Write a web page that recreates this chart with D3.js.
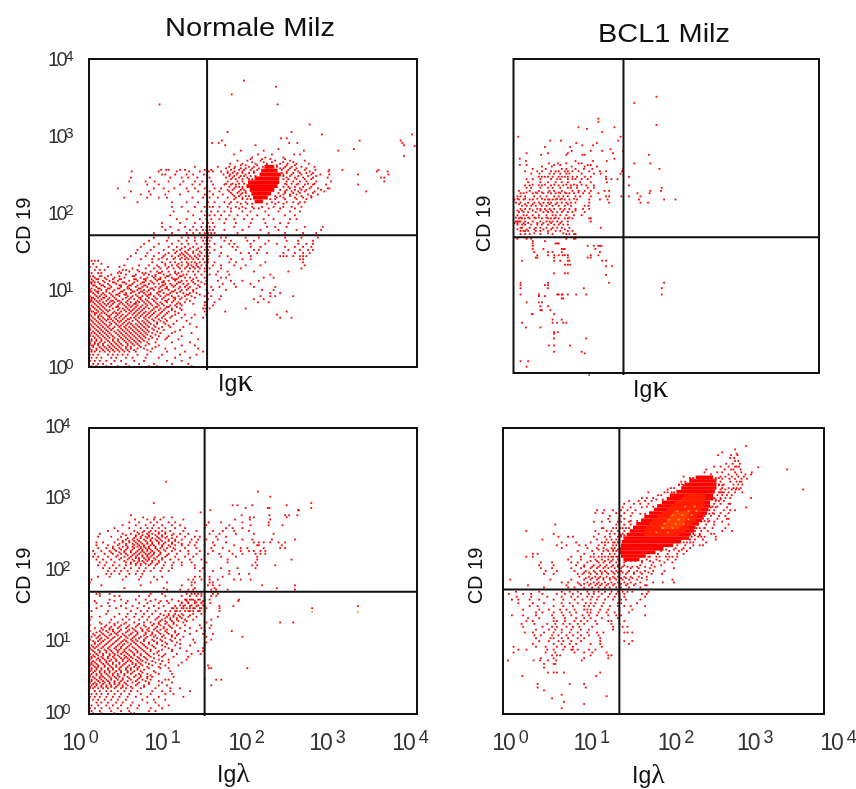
<!DOCTYPE html>
<html>
<head>
<meta charset="utf-8">
<script src="https://cdn.jsdelivr.net/npm/d3@7"></script>
<style>
body{margin:0;background:#fff}
svg{display:block;filter:blur(0.35px)}
text{font-family:"Liberation Sans",Arial,sans-serif;fill:#111}
</style>
</head>
<body>
<svg id="chart" width="856" height="789"></svg>
<script>
// all values are log10 of the signal x 100, so 0..400 is 10^0..10^4
// rows: [CD 19, [Ig values on that row]]
var decades = [0, 100, 200, 300, 400];
var exponents = ["0", "1", "2", "3", "4"];

var normalKappa = [
[372,[188]],[364,[227]],[354,[173]],[341,[85,229]],[315,[268]],[305,[168,246]],[302,[283,393]],[297,[233,240]],
[294,[161,329,379]],[291,[149,157,243,253,381]],[288,[165,202,383]],[287,[396]],[283,[230,322]],
[281,[184,212,261,303]],[276,[176,205,222,249,256]],[274,[383]],[272,[198,214,236]],
[268,[180,192,208,226,244,262]],[264,[171,186,202,216,232,241,252,267]],
[260,[128,156,170,177,194,200,211,222,228,238,246,258,274]],
[256,[87,93,96,110,116,140,148,172,182,188,196,204,234,242,250,262,275,292,308,352]],
[254,[51,84,106,121,134,145,150,160,168,176,186,200,240,254,268,291,363,350]],
[250,[88,92,104,118,126,139,143,163,171,179,190,236,246,258,270,281,292,327,364]],
[246,[50,73,98,112,120,131,146,166,174,182,192,240,250,260,272,290,355,359]],
[241,[48,68,79,96,114,128,137,148,168,180,186,240,248,256,264,276,294,359]],
[237,[70,84,110,125,134,150,164,172,178,240,252,262,272,288,327]],
[232,[34,78,90,103,118,128,140,152,160,176,186,244,256,268,278,290,292]],
[228,[50,72,96,120,132,146,158,170,182,190,238,246,254,262,274,286,337]],
[224,[62,74,92,110,140,150,162,174,184,236,244,252,266,278]],
[220,[42,70,84,94,125,138,146,156,168,178,186,228,236,250,260,270]],
[214,[58,100,118,132,144,152,164,172,180,190,222,230,240,248,256,262]],
[208,[100,112,128,140,146,150,158,168,178,186,198,210,224,236,246,258]],
[202,[102,120,136,142,148,156,164,172,186,196,214,230,244,256]],
[197,[98,126,140,146,152,160,170,180,192,204,218,238,250]],
[192,[106,118,134,142,148,158,166,176,188,198,212,224,244,252]],
[187,[88,110,128,138,144,150,164,178,196,214,232,242]],
[182,[88,98,116,126,136,142,146,152,176,194,216,226,240,262,284]],
[178,[92,108,122,130,138,142,146,150,164,186,208,230,252,282]],
[174,[78,100,118,126,134,140,144,148,152,180,218,238,260,276]],
[168,[78,96,112,120,128,136,140,144,148,160,166,190,206,238,258,278]],
[164,[72,94,108,118,128,138,142,146,164,172,192,200,218,240,254,272]],
[160,[66,84,100,112,120,130,140,144,152,170,176,196,214,228,254,264,272]],
[156,[62,78,96,106,116,126,136,142,146,160,174,180,196,208,238,250,260,270]],
[152,[58,74,90,102,110,120,130,140,144,152,178,200,206,242,256,266,272]],
[148,[56,70,84,96,104,112,118,126,136,142,146,160,184,194,204,216,236,250,260,268]],
[144,[50,68,78,90,100,108,116,122,128,134,140,144,158,168,196,232,236,240,248,256,260,264]],
[140,[46,62,76,84,94,102,110,116,120,126,132,138,144,172,186,196,256,260]],
[136,[76,88,98,104,112,118,124,128,134,140,144,152,170,178,214,260]],
[132,[42,60,72,82,92,100,106,112,120,124,130,136,142,150,160,176,190,208,262]],
[128,[52,68,78,86,94,102,110,116,122,128,134,140,146,160,184,258]],
[124,[36,48,60,74,82,88,96,104,112,120,126,132,140,156,168,200,242]],
[120,[26,44,56,66,72,80,90,98,106,114,118,128,136,146,154,170,220]],
[116,[6,18,30,42,62,70,78,86,92,100,108,116,122,130,140,160,166,212,224]],
[112,[4,16,24,34,48,58,68,74,82,90,96,104,112,118,124,132,142,156,172,186,206]],
[108,[2,12,22,32,44,52,62,72,78,84,92,98,106,114,120,128,140,162,176,196]],
[104,[8,18,26,38,46,56,64,70,80,86,94,102,110,116,122,134,148,158,178,200,226]],
[100,[0,6,14,20,30,42,50,58,66,72,78,88,96,104,112,118,126,142,150,166,210,224]],
[96,[4,10,16,24,36,44,50,60,66,74,82,90,98,106,114,122,130,144,220,232]],
[92,[0,8,12,20,28,36,46,52,58,64,70,78,86,92,100,108,116,124,140,148,160,208,220,226,248]],
[88,[2,6,14,22,32,40,48,54,62,68,76,82,88,96,104,110,118,144,158,200,212]],
[84,[0,4,10,16,24,30,38,44,50,56,60,66,72,80,86,94,100,108,116,140,141,152,205,218]],
[80,[2,8,14,20,26,34,42,48,52,58,64,70,76,84,90,98,104,112,140,150]],
[76,[0,6,12,18,28,36,40,46,54,60,66,72,78,86,92,100,110,138,141,146,190]],
[72,[2,4,10,16,22,30,38,44,50,56,62,68,74,80,88,96,104,140,165,240]],
[68,[0,6,12,20,26,34,40,46,52,58,64,70,76,84,92,104,116,128,142,228]],
[64,[4,10,16,24,30,36,42,50,54,60,66,72,80,88,98,112,124,138,232,246]],
[60,[2,8,14,20,28,34,38,44,52,58,64,70,78,86,94,106,118]],
[56,[0,6,12,18,26,32,40,46,50,56,62,68,74,82,92,102,122]],
[52,[4,10,16,22,30,36,42,48,54,60,66,72,80,88,98,114,130]],
[48,[0,8,14,20,26,34,40,46,52,58,64,70,78,90,110]],
[44,[2,6,12,18,24,32,38,44,50,56,62,68,76,86,100,124]],
[40,[0,4,10,16,22,28,36,42,48,54,60,66,74,84,96,112]],
[36,[2,8,14,20,28,34,40,46,52,58,64,72,82,92,108,132]],
[32,[0,6,12,18,24,30,36,44,50,56,62,70,80,100,122]],
[28,[2,4,10,16,22,28,34,40,46,54,60,68,84,112,128]],
[24,[0,8,14,20,26,32,38,44,50,58,66,76,92,104,132]],
[20,[2,6,12,18,24,30,36,42,48,56,74,94,116,138]],
[16,[0,4,10,22,28,34,40,46,58,70,88,110,130]],
[12,[2,8,14,26,32,44,52,68,84,104,122]],
[8,[0,6,12,20,30,38,54,66,94,112]],
[4,[4,10,16,26,44,60,78,100,120]],
[1,[2,8,20,34,48,72,82,124]]
];
var normalKappaMore = [
[270,[196,210,220,238]],[266,[198,212,222,236,248]],[262,[184,190,204,216,228,240,250]],[258,[166,176,184,190,198,206,232,236,244,252,264]],
[252,[168,174,180,186,194,200,234,240,248,256,264,272]],[248,[170,176,184,188,196,202,236,244,254,266,276]],[244,[172,178,186,194,198,236,242,252,262,270]],
[238,[166,174,182,188,238,246,254,266,274]],[234,[170,178,182,186,236,242,250,260,270]],[230,[168,174,184,188,232,240,250,258,264,282]],[226,[172,180,186,190,230,238,248,256,272]],
[222,[176,182,190,194,226,232,244,258,270]],[218,[176,186,192,196,220,226,238,252,264]],[212,[170,184,192,198,216,226,236,254]],[206,[172,182,190,200,206,218,232,250]],
[154,[112,122,132]],[150,[106,116,126,134]],[146,[92,110,114,120,132]],[142,[88,104,112,118,124,130]],[138,[2,6,10]],[134,[4,14,92,108,120,130]],
[130,[0,8,22,36,84,96,108,118,126,132]],[126,[6,12,18,40,44,58]],[122,[2,10,14,34,38,64,68,84,86,104,108]],
[118,[0,4,12,14,22,36,52,54,76,80,94,96,110,112]],
[114,[2,8,10,20,28,36,38,54,56,66,68,80,84,86,102,104,106,126]],
[110,[0,2,6,10,18,28,30,40,42,54,64,66,76,88,90,108,110,126,136]],
[106,[4,6,14,16,24,36,38,48,50,58,66,68,88,90,100,104,118,132]],
[102,[2,10,12,22,24,34,36,46,48,60,62,74,76,84,92,94,108,120,130]],
[98,[0,2,8,10,20,28,38,40,52,54,62,64,70,84,86,100,102,110,126]],
[94,[6,14,18,26,32,34,42,44,56,68,72,74,84,94,96,118,120,134]],
[90,[2,4,10,16,18,24,30,44,50,60,62,72,80,90,102,104,112,128]],
[86,[0,2,8,12,20,26,28,34,36,46,58,64,70,78,92,94,102,122]],
[82,[6,12,18,22,28,36,40,46,54,56,68,74,82,88,106,110,126]],
[78,[4,10,16,24,32,34,44,50,56,62,68,80,82,94,96,106]],
[74,[0,8,14,20,24,34,42,48,52,58,64,76,84,90,100,112]],
[70,[6,8,14,18,28,32,36,48,54,60,66,72,78,86,94,108]],
[66,[2,10,14,22,24,32,38,44,56,62,68,74,82,90,100]],
[62,[0,6,12,18,22,26,32,40,46,48,56,68,76,84,92]],
[58,[4,10,16,24,30,36,42,48,60,66,72,82,90]],
[54,[2,8,14,20,24,34,38,44,52,58,64,70,78,96]],
[50,[0,6,12,18,24,28,38,44,50,56,62,68,76,84]],
[46,[4,10,16,22,30,36,42,48,54,60,66,72,82,104]],
[42,[0,8,14,20,26,34,40,46,52,58,64,70,80]],
[38,[6,12,18,24,30,38,44,50,56,62,68,76,94]],
[34,[2,8,14,22,28,34,42,48,54,60,66]],
[30,[0,6,10,16,26,32,38,46,52,58,72]],
[26,[4,12,18,24,30,36,44,50,62,80]],
[22,[2,8,16,22,28,34,40,46,54,70]]
];
// solid part of the cloud: [CD 19, from, to, level]
var normalKappaCore = [
[260,214,226,1],[255,210,230,1],[250,208,234,1],[245,202,232,1],[240,194,232,1],[235,192,230,1],[230,196,226,1],[225,198,222,1],[220,200,218,1],[215,202,212,1]
];

var bcl1Kappa = [
[352,[186]],[344,[157]],[324,[110]],[320,[110]],[316,[186]],[313,[84,131]],[311,[95]],[307,[115]],
[301,[5,139]],[296,[47,61,136]],[293,[81,108]],[290,[89,103]],[288,[40,73]],[285,[126]],
[283,[75,100,115,142]],[280,[16,44,70,129]],[278,[35,68,89,92,176]],[273,[7,131]],[270,[15,80,103,121]],
[267,[45,57,68,84,88,157,178]],[265,[7,16,52,60,96,100]],[263,[36,49,75,92,108]],[260,[24,41,62,68,80,91,102,142,190]],
[257,[14,30,36,48,54,58,66,70,76,84,98,112,120,141]],[254,[22,33,46,52,60,68,72,88,104,113,139]],
[250,[32,36,50,58,66,76,70,92,100,120,150]],[247,[16,24,34,48,56,60,70,76,80,88,96,120,127,135]],
[243,[18,34,44,54,62,70,86,100,121]],[239,[14,20,32,36,48,58,64,74,82,94,104,150]],
[236,[16,22,34,44,50,60,70,74,82,96,104,193]],[232,[6,20,32,46,52,62,76,84,92,100,118,124,178,192]],
[229,[8,12,24,30,38,48,54,60,68,72,78,90,98,110,161,177]],[225,[4,8,14,26,34,42,52,58,64,70,80,86,100,120,124,140,150,165]],
[221,[0,6,12,20,24,40,44,46,50,54,60,66,72,82,98,112,122,163,196,211]],[217,[2,8,18,26,32,38,44,48,56,62,68,74,80,98,124,165,175]],
[213,[10,16,22,28,36,42,50,58,66,74,92,97]],[209,[8,14,20,30,34,40,46,52,60,66,72,80,90,98]],
[205,[6,12,18,28,38,44,50,56,62,70,76,92]],[201,[4,12,16,24,32,42,50,54,60,68,78,88]],
[197,[6,10,14,20,28,36,44,48,52,58,66,70,76,98,100]],[193,[2,4,6,8,14,24,34,42,46,50,56,62,70,100]],
[189,[4,10,14,22,30,36,44,52,58,64,70]],[185,[8,10,20,28,34,42,50,56,62,72,113]],
[181,[8,12,14,18,28,34,44,54,60,70,76]],[177,[8,14,20,34,50,68,72,78,80]],
[171,[4,16,22,68,78,80]],[168,[24,40]],[165,[24,54,56,58]],[162,[24,96,104,112,114,110]],
[158,[24,38,62,64,66,106]],[154,[26,44,50,62,112]],[150,[30,44,52,58,63,66,110,100,70]],
[147,[28,30,52,70,96,100]],[143,[10,52,60,70,72,115,120]],[138,[66,70,73]],[136,[120,128]],[127,[52,66,70]],[125,[120]],
[115,[8,44,124,196]],[112,[8,40,44]],[108,[8,44,91,193]],[100,[8,32,56,58,62,63,70,81,94,193]],
[98,[32,40]],[95,[62,64]],[90,[16,32,36]],[85,[34,44]],[80,[34,36,47]],[75,[23,24,52]],[68,[50,62]],
[64,[10,50,56,64,68]],[58,[15,34]],[52,[52,57]],[50,[52]],[44,[52,94]],[35,[45,52,73]],[27,[52,88]],[25,[92]],[15,[8,18]],[8,[16]]
];
var bcl1KappaMore = [
[250,[40,44,62,82]],[240,[24,40,52,68,78,88]],[230,[16,28,36,44,58,66,84]],[222,[4,14,30,36,56,62,78]],[215,[6,14,24,34,46,54,70]],
[207,[4,10,24,34,42,48,64,80]],[198,[2,8,18,26,32,42,54,72]],[191,[0,4,12,18,30,38,48,60]],[183,[4,16,26,38,48,66]],[178,[26,44,64]]
];

var normalLambda = [
[325,[93]],[311,[205]],[304,[220]],[295,[78,270]],[292,[198,174,240,180]],[288,[190,217,270,219]],[285,[254,147,255]],
[282,[135]],[278,[219,253,243,50,185,238]],[275,[90,100,200,65,79,195,240]],[272,[55,70,78,86,114,195,177,220]],
[268,[48,60,74,82,96,104,145,160,186,218]],[264,[40,56,68,78,88,100,110,142,170,196,235,218]],
[260,[30,48,62,70,76,84,92,104,116,140,166,174,186]],[256,[22,34,54,66,74,80,88,98,114,130,150,162,176,194]],
[252,[12,40,50,60,70,76,84,92,102,110,120,146,158,178,200,224]],[248,[10,26,38,56,62,68,72,82,88,94,106,116,128,134,154,166]],
[244,[34,44,52,58,66,74,80,86,96,104,112,124,132,142,156,186,198,250,222]],[240,[8,16,30,40,48,56,62,70,76,84,92,100,108,122,130,150,166,200,206,230,238,212,220]],
[236,[8,22,34,44,54,60,66,74,78,88,96,104,112,120,128,140,152,176,204,206,234]],[232,[10,20,28,36,46,54,62,68,72,80,86,94,102,116,130,148,162,184,192,232,238,212]],
[228,[4,14,24,32,42,50,58,64,70,76,84,92,100,110,120,134,150,170,184,194,200,208,214]],[224,[6,18,28,38,44,54,60,68,72,78,86,96,106,120,130,144,158,174,186,202,208,214]],
[220,[4,10,22,32,42,50,56,64,70,74,82,92,104,116,126,160,178,204]],[216,[8,16,26,36,46,52,60,68,72,80,88,98,108,122,136,168,204,246]],
[212,[12,20,30,44,50,58,66,76,84,92,102,112,124,142,168,202]],[208,[10,18,28,36,44,56,62,72,80,90,100,112,128,198,204,226]],
[204,[16,24,32,42,50,60,68,78,88,100,128,138,160,180,202]],[200,[22,30,38,46,58,66,74,86,96,134,150,170]],
[196,[20,26,36,48,56,64,140,170,182,194]],[192,[10,24,44,62,78,88,128,134,146,162]],[188,[2,40,60,82,120,126,136,146,156,176,184,196]],
[184,[0,74,94,124,128,146,150]],[180,[14,62,112,124,144,150,158,210,250]],[176,[42,90,128,152,228]],[174,[94,110,120,126,148,154,168,250]],
[168,[8,12,24,74,88,118,124,128,132,136,150,156]],[165,[12,30,36,60,72,92,112,122,130,136,148,154]],
[160,[24,38,56,68,80,100,116,124,132,140,146,182]],[158,[6,30,46,74,86,94,108,118,128,138,181]],[155,[8,22,44,60,70,84,96,112,120,128,136,147]],
[151,[14,24,38,52,66,78,90,104,114,122,130,140,158,175,327]],[148,[8,32,44,58,72,84,100,112,118,126,134,142,158,271]],
[144,[2,22,50,62,70,80,92,106,116,122,132,140,158]],[140,[20,36,46,56,66,76,86,96,104,112,126,136]],[136,[2,12,30,44,54,64,72,84,94,102,110,120,130,156]],
[132,[0,26,40,48,60,70,80,88,98,106,116,126,148]],[128,[12,24,34,44,54,66,74,84,94,102,114,142,232,248]],
[124,[0,20,30,38,48,58,66,76,86,96,106,116,134,148]],[120,[6,14,24,34,44,52,62,72,80,90,100,110,122,136,146]],
[116,[0,12,20,28,36,46,56,64,72,82,92,104,116,130,140,173]],[112,[4,16,26,32,40,50,58,68,76,86,96,108,122,138,150]],
[108,[2,10,20,30,38,44,54,62,70,78,88,100,114,142,186]],[104,[0,12,18,26,34,42,50,56,66,76,86,98,110,126,148]],
[100,[6,14,22,30,38,46,54,62,72,82,92,106,128,142]],[96,[2,10,18,26,34,40,48,58,66,76,88,104,122,140]],
[92,[0,6,14,22,30,38,44,54,62,70,80,96,110,138]],[88,[4,12,20,26,34,42,50,58,66,74,84,100,118,132,138]],
[84,[0,8,16,24,30,38,46,54,62,70,78,92,106,124,135]],[80,[2,6,14,22,28,36,44,50,58,66,74,88,102,120]],
[76,[0,8,12,18,26,32,40,48,56,62,70,84,96,118]],[72,[2,6,14,20,28,36,44,52,60,68,80,96,112]],
[68,[0,4,10,18,24,32,40,48,56,64,76,92,108,144]],[64,[2,8,14,22,28,36,44,50,58,72,86,96,145,148,192]],
[60,[0,6,12,18,24,32,38,46,54,62,78,98]],[56,[2,8,14,20,28,34,42,50,60,70,84,100]],
[52,[0,4,12,16,24,30,36,46,54,62,70,76,102]],[48,[2,8,14,20,26,34,40,50,58,64,74,92,96,140,154,160]],
[44,[0,6,12,18,24,30,36,42,52,60,72,88,100]],[40,[2,8,14,20,26,34,40,46,56,66,84,94,148]],
[36,[0,4,10,16,22,30,38,44,52,62,80,98,110]],[32,[6,12,20,26,34,42,50,58,76,88,98,122]],
[28,[2,8,14,22,30,38,48,62,74,92,102]],[24,[0,6,12,20,28,36,46,56,70,84,114]],[20,[4,10,18,26,34,44,64,78,92]],
[16,[8,14,22,32,40,52,70,80]],[12,[2,10,20,28,38,50,60,84,96]],[8,[0,6,14,24,34,46,58,74,88]],[4,[2,12,26,38,48,72,80]],[1,[4,14,30,50,54]]
];
var normalLambdaMore = [
[254,[58,64,72,84,92]],[250,[44,56,64,72,80,88,100]],[246,[46,54,62,70,76,84,92,100]],[242,[40,48,54,60,68,74,82,88,96,104]],
[238,[36,44,52,58,64,70,76,84,90,100,112]],[234,[28,40,46,52,58,62,66,72,80,88,98]],[230,[30,38,44,52,60,64,70,74,82,90,104]],
[226,[26,36,42,50,56,62,66,74,78,86]],[222,[34,46,52,58,64,70,76,84,94]],[218,[38,48,56,60,66,72,78,88]],[214,[42,54,60,64,70,76,84]],[210,[50,56,62,68,74,82]],
[160,[118,122,126,134]],[156,[112,120,130,136]],[152,[110,116,124,132,138]],[148,[102,106,114,122,128,136]],[144,[98,104,110,120,126,134]],
[138,[90,96,102,108,114,122]],[134,[82,92,98,106,112]],[130,[86,92,100,108,118]],[126,[14,30,42,60,78,84,92,102]],[122,[18,26,36,46,56,68,82,90,98]],
[118,[16,24,28,38,48,54,64,70,78,86,94]],[114,[8,14,22,30,34,44,52,58,68,76,84,94,104]],[110,[6,12,18,24,34,42,48,56,66,74,80,90,100,106]],
[106,[8,14,22,28,36,46,52,60,68,82,92,104]],[102,[4,10,16,24,32,40,44,52,58,66,78,88,100]],[98,[6,12,20,28,36,42,50,56,64,72,82,94,110]],
[94,[4,8,16,24,32,38,46,52,60,68,78,92]],[90,[2,10,18,24,32,36,42,48,56,64,74,88,100]],[86,[6,12,20,28,34,40,44,52,58,68,82]],
[82,[4,10,16,24,30,34,42,48,54,62,72,84,90]],[78,[2,10,16,22,30,38,42,46,52,60,68,78]],[74,[4,12,20,24,32,40,46,50,58,64,76,88]],
[70,[2,8,16,22,28,36,42,52,56,62,72,86]],[66,[6,10,18,26,32,38,46,54,60,70,84]],[62,[2,8,14,22,28,36,44,50,58,66]],
[58,[4,12,18,24,30,38,46,52,64,80]],[54,[0,8,14,22,28,34,42,56,62,74]],[50,[6,12,18,26,32,40,48,60,70]],
[46,[2,10,16,22,30,38,46,56,68,84]],[42,[4,8,16,24,30,36,44,58,72]],[38,[0,6,14,20,26,32,40,50,66]]
];
var normalLambdaOrange = [[143,[271,327]]];

var bcl1Lambda = [
[375,[302]],[370,[288]],[366,[272]],[364,[290]],[362,[267,283,291]],[358,[282,287]],[354,[288,292]],[350,[277,285,294]],
[346,[262,270,280,288,290,293]],[345,[317]],[342,[353,252,275,283,295,286]],[338,[250,266,272,288,296,309]],[335,[308,258,280,290,301]],
[332,[224,270,276,284,292,299]],[329,[303,232,235,264,272,281,288,296]],[325,[226,221,270,282,290,296,294]],
[321,[218,222,268,274,286,292,297]],[316,[208,212,272,280,286,290,295]],[314,[373,204,270,276,284,289,293]],
[310,[180,200,209,270,274,280,288,297]],[306,[192,196,272,266,278,284]],[302,[308,172,178,186,262,270,276,282]],
[298,[156,168,176,184,264,268,274]],[294,[150,162,170,180,262,270,280,282]],[289,[302,148,158,172,258,264,278]],
[285,[116,125,136,146,154,164,256,262,274,282,288]],[281,[114,123,140,150,160,252,260,270,280]],[277,[132,146,158,250,258,268,276]],
[273,[130,144,150,248,254,266,280,278]],[269,[112,122,132,142,146,156,246,254,262,272]],[265,[64,140,150,158,242,252,262,280]],
[260,[122,124,136,140,145,152,240,250,260,276]],[256,[28,114,128,134,142,150,238,246,254,284,272]],[252,[62,118,132,138,144,148,236,244,262,258]],
[248,[80,86,68,112,126,132,142,146,234,242,250,246,264]],[244,[48,116,128,134,140,144,232,238,248,264]],[240,[72,90,108,122,130,138,142,228,236,252]],
[236,[66,78,94,102,118,126,136,140,216,226,236,244,248]],[232,[72,104,116,124,134,138,214,224,232]],[228,[92,110,124,130,136,140,196,206,218,228]],
[224,[36,42,100,112,122,132,138,192,204,216,224]],[220,[28,36,84,96,108,118,126,134,140,182,194,206,216]],[216,[80,96,114,122,130,136,142,178,190,204,214]],
[212,[46,60,84,92,104,118,124,132,140,150,172,186,200,210]],[208,[44,62,90,100,112,120,128,136,142,150,170,184,196]],
[204,[46,60,84,96,108,116,124,130,138,146,158,168,182,212]],[200,[52,66,88,102,112,120,126,134,140,146,156,166,176,186,200]],
[196,[50,62,92,98,108,116,122,130,138,144,152,162,172,184,197]],[192,[94,106,114,120,128,136,142,150,158,168,178]],
[188,[8,58,84,100,108,116,124,132,140,148,156,166,178,210]],[184,[72,80,92,104,112,118,126,134,142,150,158,170,186,198,212]],
[180,[30,78,96,106,114,120,128,136,144,152,162,176,178]],[177,[50,80,88,100,110,118,126,132,140,146,156,170]],
[171,[15,44,72,82,92,104,112,118,126,134,142,148,154,160,180]],[168,[6,24,34,48,66,76,86,96,106,112,122,132,140,144,150,172,178]],
[164,[16,34,54,72,84,92,104,110,118,130,138,144,150,176]],[160,[10,18,32,44,62,74,88,98,108,116,126,136,146,152,170]],
[155,[18,36,50,72,82,92,102,108,114,124,142,146,166]],[151,[32,42,62,74,86,100,106,112,122,132,142,150,158,176]],
[146,[24,44,56,70,78,88,100,104,108,120,130,144,160]],[142,[40,48,62,72,82,90,104,108,118,128,138,156]],
[138,[10,24,40,60,74,84,98,106,116,130,140,146,176]],[134,[30,44,62,76,90,100,108,122,142]],[130,[28,36,62,66,76,88,96,104,114,130,134,150]],
[126,[22,38,54,64,74,82,92,100,116,134,144]],[122,[24,48,60,66,78,86,94,110,136,148,154]],[118,[40,56,64,72,84,96,106,136]],
[114,[26,36,50,62,72,82,92,104,116,124,150,160,154]],[110,[38,46,60,68,78,86,96,106,118]],[106,[40,58,62,72,80,92,100,120]],
[102,[44,56,68,74,84,96,120,150,160]],[98,[36,62,72,82,90,108,120,156]],[94,[12,40,52,66,76,86,122]],
[90,[18,28,54,62,74,84,86,92,106,114]],[86,[12,52,64,88,100,110,128]],[82,[60,66,70,108,134,130]],[78,[46,62,100,130]],
[75,[5,37,45,55,65,97]],[70,[50,62,64]],[65,[50]],[58,[55,62,66,75,120]],[53,[23,115]],[42,[42,82,100]],[37,[42,102]],
[33,[50]],[27,[72]],[25,[128]],[22,[60]],[17,[75]],[14,[100]],[8,[72]]
];
var bcl1LambdaMore = [
[330,[232,236,264,268]],[320,[218,224,268,272]],[310,[204,212,268,272]],[300,[190,198,264,270]],[290,[178,186,260,266]],
[280,[170,176,256,262]],[270,[158,166,250,256]],[260,[148,156,244,250]],[250,[146,150,238,244]],[240,[126,136,142,224,232]],
[230,[118,128,136,142,202,212,222]],[220,[112,122,130,136,142,180,190,202,210]],
[214,[108,116,126,134,144,152,158,164,172,182,194]],[206,[100,110,118,126,134,142,148,154,160,166,176,188]],
[198,[100,106,114,122,128,136,142,148,154,162,170,180]],[190,[102,110,118,124,132,138,146,152,160,172]],[182,[94,100,108,116,122,130,138,146,154,164]]
];
var bcl1LambdaCore = [
[331,240,262,1],[326,232,266,1],[321,226,266,1],[316,222,266,1],[311,216,264,1],[306,208,262,1],[301,204,262,1],[296,198,258,1],
[291,192,258,1],[286,188,256,1],[281,182,254,1],[276,176,250,1],[271,172,248,1],[266,166,244,1],[261,162,240,1],[256,158,238,1],
[251,154,234,1],[246,150,232,1],[241,148,222,1],[236,147,212,1],[231,146,200,1],[226,146,190,1],[221,147,178,1],[216,150,170,1],
[306,226,252,2],[301,222,252,2],[296,214,250,2],[291,208,250,2],[286,204,248,2],[281,198,246,2],[276,192,242,2],[271,186,240,2],[266,182,236,2],[261,178,232,2],[256,176,228,2],[251,176,220,2],
[281,212,232,3],[276,208,230,3],[271,204,228,3],[266,200,224,3],[261,196,220,3]
];
var bcl1LambdaOrange = [
[290,[226,238]],[284,[216,230,240]],[278,[210,222,234]],[272,[206,218,230]],[266,[200,214,224]],[260,[198,210]],[254,[190,204]]
];

var levelColor = d3.scaleOrdinal().domain([1, 2, 3]).range(["#ff0000", "#ff1e00", "#ff4000"]);
var svg = d3.select("#chart");

function drawTitle(text, x, y, len){
	svg.append("text").attr("x", x).attr("y", y).attr("text-anchor", "middle")
		.attr("font-size", 25).attr("textLength", len).attr("lengthAdjust", "spacingAndGlyphs").text(text);
}
function drawCd(x, y){
	svg.append("text").attr("transform", "translate(" + x + "," + y + ") rotate(-90)")
		.attr("text-anchor", "middle").attr("font-size", 20).text("CD 19");
}
function drawIg(greek, size, x, y){
	var t = svg.append("text").attr("x", x).attr("y", y).attr("font-size", 23);
	t.append("tspan").text("Ig");
	t.append("tspan").style("font-family", "'Liberation Serif',serif").style("font-size", size + "px").text(greek);
}

function panel(o){
	var x = d3.scaleLinear().domain([0, 400]).range([o.left, o.right]);
	var y = d3.scaleLinear().domain([0, 400]).range([o.bottom, o.top]);
	var g = svg.append("g");

	var points = [];
	o.rows.forEach(function(r){
		r[1].forEach(function(v){ points.push({x: v, y: r[0]}); });
	});

	var step = 5;
	g.selectAll("rect.core").data(o.core || []).enter().append("rect").attr("class", "core")
		.attr("x", function(d){ return x(d[1]); })
		.attr("y", function(d){ return y(d[0] + step / 2); })
		.attr("width", function(d){ return x(d[2]) - x(d[1]); })
		.attr("height", function(d){ return y(d[0] - step / 2) - y(d[0] + step / 2); })
		.attr("fill", function(d){ return levelColor(d[3]); });

	g.selectAll("rect.dot").data(points).enter().append("rect").attr("class", "dot")
		.attr("x", function(d){ return x(d.x); })
		.attr("y", function(d){ return y(d.y) - 0.9; })
		.attr("width", 1.8).attr("height", 1.8).attr("fill", "#ff0000");

	(o.orange || []).forEach(function(r){
		r[1].forEach(function(v){
			g.append("rect").attr("x", x(v)).attr("y", y(r[0]) - 0.9).attr("width", 1.8).attr("height", 1.8).attr("fill", "#ffa030");
		});
	});

	// frame and quadrant lines
	g.append("rect").attr("x", o.left).attr("y", o.top).attr("width", o.right - o.left).attr("height", o.bottom - o.top)
		.attr("fill", "none").attr("stroke", "#111").attr("stroke-width", 2);
	g.append("line").attr("x1", x(o.gateX)).attr("x2", x(o.gateX)).attr("y1", o.top).attr("y2", o.lineEnd)
		.attr("stroke", "#111").attr("stroke-width", 2);
	g.append("line").attr("x1", o.left).attr("x2", o.right).attr("y1", y(o.gateY)).attr("y2", y(o.gateY))
		.attr("stroke", "#111").attr("stroke-width", 2);
	if(o.stubX){
		g.append("line").attr("x1", x(o.stubX)).attr("x2", x(o.stubX)).attr("y1", o.bottom).attr("y2", o.bottom + 3)
			.attr("stroke", "#111").attr("stroke-width", 1);
	}

	if(o.yLabels){
		var ay = svg.append("g").attr("transform", "translate(" + o.left + ",0)")
			.call(d3.axisLeft(y).tickValues(decades).tickSize(0).tickFormat(function(){ return "10"; }));
		ay.select(".domain").remove();
		ay.selectAll("text").attr("text-anchor", "start").attr("x", o.yLabels.x).attr("dy", o.yLabels.dy + "px")
			.style("font-family", "'Liberation Sans'").style("font-size", "20px").attr("letter-spacing", "-2.5").style("fill", "#333")
			.append("tspan").attr("dx", "0").attr("dy", "-5").style("font-size", "15px")
			.text(function(d, i){ return exponents[i]; });
	}
	if(o.xLabels){
		var ax = svg.append("g").attr("transform", "translate(0," + o.bottom + ")")
			.call(d3.axisBottom(x).tickValues(decades).tickSize(0).tickFormat(function(){ return "10"; }));
		ax.select(".domain").remove();
		ax.selectAll("text").attr("text-anchor", "middle").attr("dx", function(d, i){ return o.xLabels.dx[i]; })
			.attr("y", o.xLabels.y).attr("dy", 0)
			.style("font-family", "'Liberation Sans'").style("font-size", "23px").attr("letter-spacing", "-2").style("fill", "#333")
			.append("tspan").attr("dx", "5").attr("dy", "-7").style("font-size", "18px")
			.text(function(d, i){ return exponents[i]; });
	}
}

drawTitle("Normale Milz", 250, 36, 170);
drawTitle("BCL1 Milz", 664, 42, 132);
drawCd(30, 226);
drawCd(490, 224);
drawCd(30, 576);
drawCd(482, 576);
drawIg("\u03ba", 32, 218, 391);
drawIg("\u03ba", 32, 633, 397);
drawIg("\u03bb", 28, 217, 782);
drawIg("\u03bb", 28, 632, 783);

panel({rows: normalKappa.concat(normalKappaMore), core: normalKappaCore, left: 89, right: 417, top: 59, bottom: 367, gateX: 144, gateY: 171, lineEnd: 370, yLabels: {x: -41, dy: 6}});
panel({rows: bcl1Kappa.concat(bcl1KappaMore), left: 513.5, right: 819, top: 59, bottom: 373, gateX: 144, gateY: 173, lineEnd: 375, stubX: 99});
panel({rows: normalLambda.concat(normalLambdaMore), orange: normalLambdaOrange, left: 89, right: 417, top: 428, bottom: 714, gateX: 141, gateY: 171, lineEnd: 716, yLabels: {x: -44, dy: 4}, xLabels: {y: 36, dx: [-10, -10, -8, -9, -8]}});
panel({rows: bcl1Lambda.concat(bcl1LambdaMore), core: bcl1LambdaCore, orange: bcl1LambdaOrange, left: 503, right: 824, top: 428, bottom: 714, gateX: 145, gateY: 174, lineEnd: 714, xLabels: {y: 36, dx: [6, 7, 11, 10, 13]}});
</script>
</body>
</html>
